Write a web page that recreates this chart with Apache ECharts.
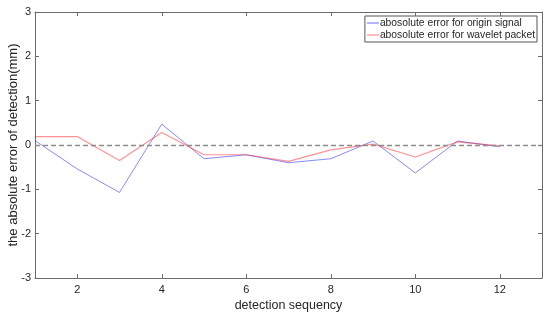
<!DOCTYPE html>
<html>
<head>
<meta charset="utf-8">
<script src="https://cdn.jsdelivr.net/npm/echarts@6/dist/echarts.min.js"></script>
<style>html,body{margin:0;padding:0;background:#fff}#c{width:550px;height:320px}</style>
</head>
<body>
<div id="c"></div>
<script>
const sequence = [1, 2, 3, 4, 5, 6, 7, 8, 9, 10, 11, 12];
const originError = [0.10, -0.54, -1.07, 0.47, -0.31, -0.22, -0.40, -0.31, 0.09, -0.63, 0.09, -0.04];
const waveletError = [0.19, 0.19, -0.35, 0.28, -0.22, -0.22, -0.37, -0.11, 0.02, -0.27, 0.07, -0.02];
const xTicks = [2, 4, 6, 8, 10, 12];
const seriesNames = ['abosolute error for origin signal', 'abosolute error for wavelet packet'];

const font = 'Liberation Sans, Arial, Helvetica, sans-serif';
const axisColor = '#6b6b6b';
const textColor = '#262626';

const chart = echarts.init(document.getElementById('c'), null, {renderer: 'canvas'});
const pair = (vals) => sequence.map((s, i) => [s, vals[i]]);

chart.setOption({
  animation: false,
  backgroundColor: '#fff',
  grid: {left: 35, right: 8, top: 12, bottom: 42, containLabel: false, outerBoundsMode: 'none'},
  legend: {
    data: seriesNames,
    orient: 'vertical',
    right: 13,
    top: 16,
    backgroundColor: '#fff',
    borderColor: '#555',
    borderWidth: 1,
    borderRadius: 0,
    padding: [2, 2, 2, 2],
    itemGap: 2,
    itemWidth: 12,
    itemHeight: 1,
    icon: 'rect',
    textStyle: {fontFamily: font, fontSize: 10.3, color: textColor, padding: [0, 0, 0, -4]}
  },
  xAxis: [{
    type: 'value', min: 1, max: 13, position: 'bottom',
    name: 'detection sequency', nameLocation: 'middle', nameGap: 21, nameMoveOverlap: false,
    nameTextStyle: {fontFamily: font, fontSize: 12.5, color: textColor},
    axisLine: {show: true, onZero: false, lineStyle: {color: axisColor, width: 1}},
    axisTick: {show: true, inside: true, length: 4, customValues: xTicks, lineStyle: {color: axisColor}},
    axisLabel: {customValues: xTicks, fontFamily: font, fontSize: 11, color: textColor, margin: 6},
    splitLine: {show: false}
  }, {
    type: 'value', min: 1, max: 13, position: 'top',
    axisLine: {show: true, onZero: false, lineStyle: {color: axisColor, width: 1}},
    axisTick: {show: true, inside: true, length: 4, customValues: xTicks, lineStyle: {color: axisColor}},
    axisLabel: {show: false},
    splitLine: {show: false}
  }],
  yAxis: [{
    type: 'value', min: -3, max: 3, interval: 1, position: 'left',
    name: 'the absolute error of detection(mm)', nameLocation: 'middle', nameGap: 15, nameMoveOverlap: false,
    nameTextStyle: {fontFamily: font, fontSize: 13, color: textColor},
    axisLine: {show: true, onZero: false, lineStyle: {color: axisColor, width: 1}},
    axisTick: {show: true, inside: true, length: 4, lineStyle: {color: axisColor}},
    axisLabel: {fontFamily: font, fontSize: 11, color: textColor, margin: 4},
    splitLine: {show: false}
  }, {
    type: 'value', min: -3, max: 3, interval: 1, position: 'right',
    axisLine: {show: true, onZero: false, lineStyle: {color: axisColor, width: 1}},
    axisTick: {show: true, inside: true, length: 4, lineStyle: {color: axisColor}},
    axisLabel: {show: false},
    splitLine: {show: false}
  }],
  series: [{
    name: 'zero',
    type: 'line',
    data: [],
    silent: true,
    markLine: {
      silent: true, symbol: 'none', label: {show: false},
      lineStyle: {color: '#8c8c8c', type: [5, 3], width: 1.3},
      data: [{yAxis: 0}]
    }
  }, {
    name: seriesNames[0],
    type: 'line',
    data: pair(originError),
    symbol: 'none',
    lineStyle: {color: 'rgba(40,40,255,0.55)', width: 1},
    itemStyle: {color: 'rgba(40,40,255,0.7)'}
  }, {
    name: seriesNames[1],
    type: 'line',
    data: pair(waveletError),
    symbol: 'none',
    lineStyle: {color: 'rgba(255,40,40,0.5)', width: 1.2},
    itemStyle: {color: 'rgba(255,60,60,0.7)'}
  }]
});
</script>
</body>
</html>
